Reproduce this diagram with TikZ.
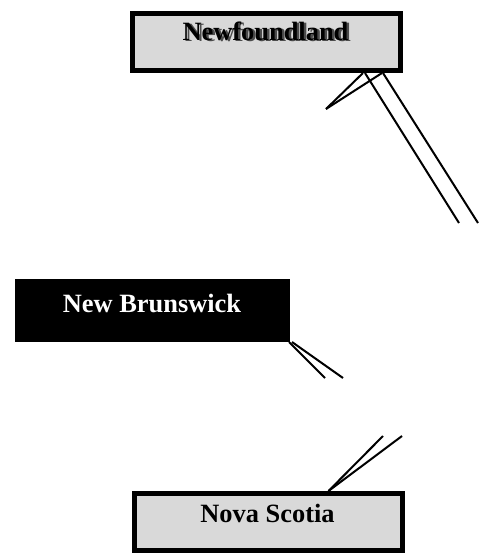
\documentclass[tikz,border=0pt]{standalone}
\usepackage{fontspec}
\setmainfont{Liberation Serif}
\usepackage{xcolor}
\usetikzlibrary{calc}
\definecolor{boxgray}{RGB}{217,217,217}

\begin{document}
\begin{tikzpicture}[x=0.75pt,y=0.75pt,
		provbox/.style={draw=black, fill=boxgray, line width=3.75pt, inner sep=0pt, minimum width=201pt, minimum height=42.75pt},
		darkbox/.style={draw=black, fill=black, line width=0.75pt, inner sep=0pt, minimum width=205.5pt, minimum height=46.5pt},
		provname/.style={inner sep=0pt, anchor=base, font=\fontsize{19.8}{22}\selectfont\bfseries},
		link/.style={black, line width=1.5pt}]
		\useasboundingbox (0,0) rectangle (491,-560);
		% boxes
		\node [provbox] (nf) at (266.5,-42) {};
		\node [darkbox] (nb) at (152.5,-310.5) {};
		\node [provbox] (ns) at (268,-522) {};
		% names
		\node [provname, text=black!70] (nf-shadow) at (268,-42) {Newfoundland};
		\node [provname] (nf-name) at (265.5,-40.5) {Newfoundland};
		\node [provname, text=white] (nb-name) at (152,-312) {New Brunswick};
		\node [provname] (ns-name) at (267.5,-522) {Nova Scotia};
		% free ends
		\coordinate (nf-far-a) at (459,-223);
		\coordinate (nf-far-b) at (478,-223);
		\coordinate (nf-tip) at (326,-109);
		\coordinate (nb-far-a) at (325,-378);
		\coordinate (nb-far-b) at (343,-378);
		\coordinate (ns-far-a) at (383,-436);
		\coordinate (ns-far-b) at (402,-436);
		% links
		\draw [link] ($(nf.south east)+(-38,0)$) -- (nf-far-a);
		\draw [link] ($(nf.south east)+(-20,0)$) -- (nf-far-b);
		\draw [link] (nf-tip) -- ($(nf.south east)+(-40,0)$);
		\draw [link] (nf-tip) -- ($(nf.south east)+(-21,0)$);
		\draw [link] ($(nb.south east)+(-1,0)$) -- (nb-far-a);
		\draw [link] ($(nb.south east)+(2,0)$) -- (nb-far-b);
		\draw [link] ($(ns.north west)+(197,0)$) -- (ns-far-a);
		\draw [link] ($(ns.north west)+(197,0)$) -- (ns-far-b);
\end{tikzpicture}
\end{document}
